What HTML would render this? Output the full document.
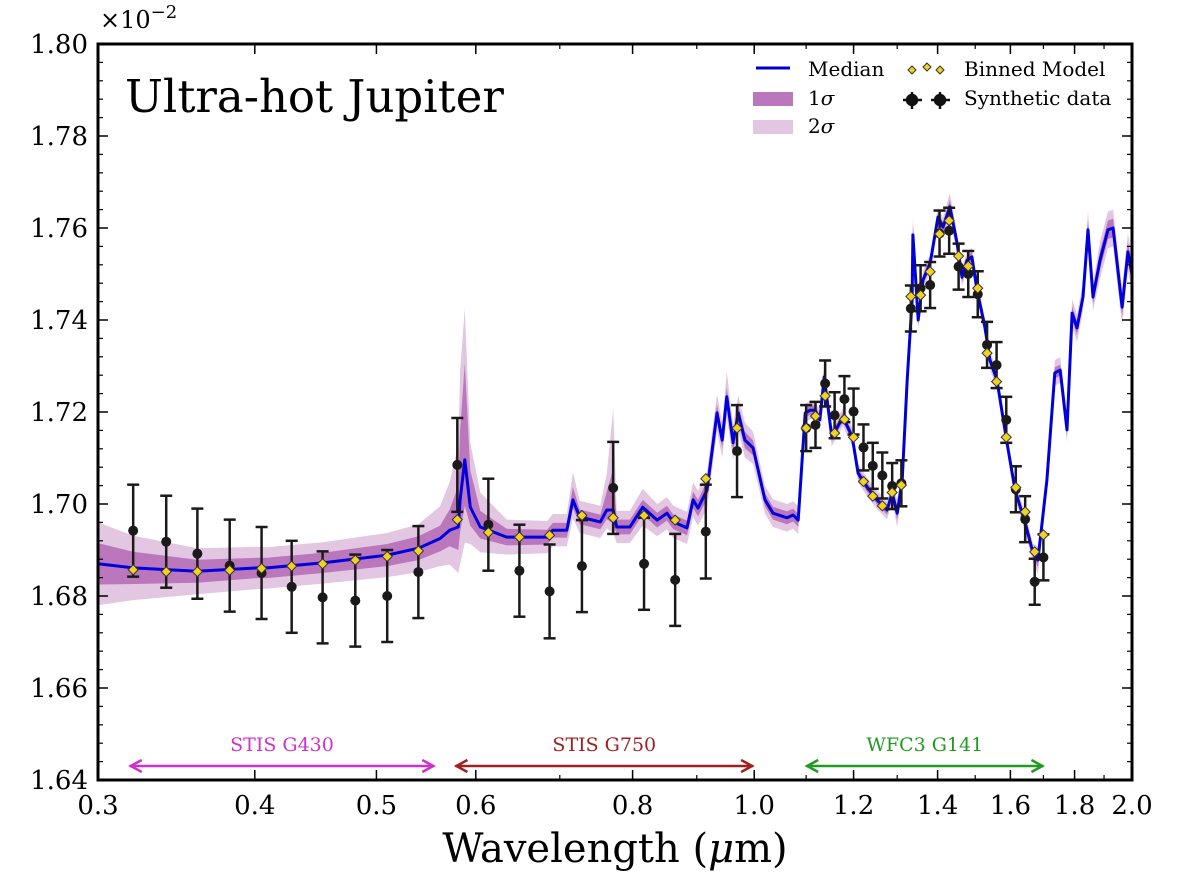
<!DOCTYPE html>
<html><head><meta charset="utf-8"><style>
html,body{margin:0;padding:0;background:#fff;}
svg{display:block;}
text{font-family:"DejaVu Serif","Liberation Serif",serif;}
</style></head><body>
<svg id="chart" width="1200" height="892" xmlns="http://www.w3.org/2000/svg">
<g id="bands"></g>
<g id="median"></g>
<g id="data"></g>
<g id="binned"></g>
<g id="axes"></g>
<text x="125" y="112" font-size="45">Ultra-hot Jupiter</text>
<text x="100" y="28" font-size="24">×10<tspan dy="-10" font-size="18">−2</tspan></text>
<text x="615" y="862" font-size="40" text-anchor="middle">Wavelength (<tspan font-style="italic">μ</tspan>m)</text>
<g>
 <line x1="756" y1="68" x2="790" y2="68" stroke="#0000cc" stroke-width="3"/>
 <text x="808" y="76" font-size="20">Median</text>
 <rect x="753" y="92" width="40" height="14" fill="#bb77bb"/>
 <text x="808" y="105" font-size="20">1<tspan font-style="italic">σ</tspan></text>
 <rect x="753" y="120" width="40" height="14" fill="#e2c6e2"/>
 <text x="808" y="133" font-size="20">2<tspan font-style="italic">σ</tspan></text>
 <g>
  <path d="M912 66l4 4-4 4-4-4z M927 63l4 4-4 4-4-4z M940 66l4 4-4 4-4-4z" fill="#f2d21e" stroke="#333" stroke-width="1"/>
 </g>
 <text x="964" y="76" font-size="20">Binned Model</text>
 <g stroke="#111" stroke-width="2.5">
  <line x1="903" y1="100" x2="922" y2="100"/><line x1="912" y1="92" x2="912" y2="109"/>
  <line x1="931" y1="100" x2="950" y2="100"/><line x1="940" y1="92" x2="940" y2="109"/>
  <circle cx="912" cy="100" r="5" fill="#111"/><circle cx="940" cy="100" r="5" fill="#111"/>
 </g>
 <text x="964" y="105" font-size="20">Synthetic data</text>
</g>
<g id="instr"></g>
</svg>
<script>
const NS="http://www.w3.org/2000/svg";
// ---- data ----
const modelWl=[0.300,0.320,0.360,0.402,0.409,0.453,0.510,0.540,0.562,0.572,0.581,0.583,0.588,0.594,0.605,0.635,0.684,0.691,0.709,0.717,0.726,0.754,0.763,0.772,0.777,0.796,0.815,0.837,0.852,0.862,0.884,0.894,0.902,0.917,0.934,0.943,0.951,0.962,0.971,0.983,0.998,1.020,1.035,1.062,1.074,1.084,1.098,1.108,1.118,1.128,1.137,1.153,1.177,1.197,1.210,1.230,1.253,1.276,1.288,1.300,1.312,1.324,1.336,1.338,1.351,1.363,1.381,1.401,1.414,1.432,1.451,1.464,1.478,1.491,1.505,1.527,1.541,1.561,1.590,1.614,1.644,1.668,1.683,1.711,1.736,1.753,1.775,1.792,1.808,1.828,1.845,1.862,1.886,1.914,1.932,1.964,1.985,2.000];
const modelMed=[1.6870,1.6861,1.6854,1.6861,1.6861,1.6872,1.6889,1.6904,1.6925,1.6943,1.6950,1.7009,1.7096,1.6993,1.6950,1.6928,1.6928,1.6943,1.6943,1.7009,1.6972,1.6961,1.6987,1.6987,1.6950,1.6950,1.6993,1.6965,1.6980,1.6961,1.6948,1.7009,1.6991,1.7030,1.7198,1.7139,1.7233,1.7133,1.7198,1.7139,1.7122,1.7009,1.6980,1.6970,1.6976,1.6965,1.7198,1.7204,1.7204,1.7183,1.7276,1.7146,1.7189,1.7146,1.7067,1.7037,1.7009,1.6987,1.7024,1.6980,1.7052,1.7270,1.7443,1.7585,1.7400,1.7487,1.7524,1.7624,1.7602,1.7646,1.7567,1.7493,1.7530,1.7537,1.7465,1.7385,1.7313,1.7270,1.7133,1.7030,1.6959,1.6893,1.6878,1.7052,1.7285,1.7291,1.7161,1.7415,1.7383,1.7450,1.7596,1.7450,1.7530,1.7596,1.7600,1.7428,1.7548,1.7500];
// half-widths in units of 1e-4
const sig1=[45,35,25,22,22,22,24,26,28,35,50,70,100,40,25,18,16,16,16,18,16,16,20,30,16,16,16,16,16,16,16,18,18,20,18,18,20,18,18,18,16,14,14,14,14,14,10,10,10,10,15,10,10,10,10,10,10,10,10,15,10,10,15,20,10,10,10,10,10,15,10,10,10,10,10,10,10,10,10,10,10,10,15,10,12,12,12,15,15,15,20,15,20,20,20,20,20,20];
const sig2=[90,70,50,46,45,45,48,52,60,75,100,140,180,80,55,38,35,35,35,40,35,35,40,50,35,35,40,35,35,35,35,38,38,40,40,38,45,38,38,38,35,30,30,30,30,30,20,20,20,20,30,20,20,20,20,20,20,20,20,30,20,20,30,40,20,20,20,20,20,30,20,20,20,20,20,20,20,20,20,20,20,20,30,20,28,28,28,30,30,30,40,30,40,40,40,40,40,40];
// extra upward extent of bands (1e-4)
const up1=[0,0,0,0,0,0,0,0,0,10,40,80,110,40,10,0,0,0,0,10,0,0,20,60,0,0,0,0,0,0,0,0,0,0,0,0,0,0,0,0,0,0,0,0,0,0,0,0,0,0,0,0,0,0,0,0,0,0,0,0,0,0,0,0,0,0,0,0,0,0,0,0,0,0,0,0,0,0,0,0,0,0,0,0,0,0,0,0,0,0,0,0,0,0,0,0,0,0];
const up2=[0,0,0,0,0,0,0,0,10,30,80,140,150,60,20,0,0,0,0,20,0,0,40,170,0,0,0,0,0,0,0,0,0,0,0,0,10,0,0,0,0,0,0,0,0,0,0,0,0,0,0,0,0,0,0,0,0,0,0,0,0,0,0,0,0,0,0,0,0,0,0,0,0,0,0,0,0,0,0,0,0,0,0,0,0,0,0,0,0,0,0,0,0,0,0,0,0,0];
const dataWl=[0.320,0.340,0.360,0.382,0.405,0.428,0.453,0.481,0.510,0.540,0.580,0.614,0.650,0.687,0.729,0.772,0.817,0.865,0.915,0.969,1.100,1.119,1.139,1.159,1.180,1.200,1.222,1.243,1.265,1.288,1.310,1.333,1.357,1.381,1.405,1.430,1.455,1.481,1.507,1.533,1.560,1.588,1.616,1.644,1.673,1.700];
const dataVal=[1.6942,1.6918,1.6892,1.6866,1.6850,1.6820,1.6797,1.6790,1.6800,1.6852,1.7085,1.6955,1.6855,1.6810,1.6865,1.7035,1.6870,1.6835,1.6940,1.7115,1.7165,1.7172,1.7262,1.7193,1.7228,1.7201,1.7123,1.7083,1.7062,1.7039,1.7045,1.7425,1.7469,1.7476,1.7588,1.7594,1.7516,1.7500,1.7456,1.7346,1.7302,1.7183,1.7032,1.6967,1.6831,1.6884];
const dataErr=[0.0100,0.0100,0.0098,0.0100,0.0100,0.0100,0.0100,0.0100,0.0100,0.0100,0.0102,0.0100,0.0100,0.0102,0.0100,0.0100,0.0100,0.0100,0.0102,0.0100,0.0050,0.0050,0.0050,0.0050,0.0050,0.0050,0.0050,0.0050,0.0050,0.0050,0.0050,0.0050,0.0050,0.0050,0.0050,0.0050,0.0050,0.0050,0.0050,0.0050,0.0050,0.0050,0.0050,0.0050,0.0050,0.0050];
const binnedVal=[1.6857,1.6853,1.6853,1.6856,1.6860,1.6865,1.6870,1.6878,1.6886,1.6898,1.6966,1.6938,1.6928,1.6932,1.6975,1.6970,1.6975,1.6965,1.7055,1.7165,1.7165,1.7191,1.7235,1.7154,1.7184,1.7145,1.7049,1.7017,1.6996,1.7025,1.7041,1.7451,1.7454,1.7505,1.7587,1.7616,1.7539,1.7517,1.7469,1.7328,1.7266,1.7145,1.7036,1.6983,1.6896,1.6933];
const xTicks=[0.3,0.4,0.5,0.6,0.8,1.0,1.2,1.4,1.6,1.8,2.0];
const xTickLabels=["0.3","0.4","0.5","0.6","0.8","1.0","1.2","1.4","1.6","1.8","2.0"];
const xMinor=[0.7,0.9,1.1,1.3,1.5,1.7,1.9];
const yTicks=[1.64,1.66,1.68,1.70,1.72,1.74,1.76,1.78,1.80];
const yTickLabels=["1.64","1.66","1.68","1.70","1.72","1.74","1.76","1.78","1.80"];
const instNames=["STIS G430","STIS G750","WFC3 G141"];
const instStart=[0.318,0.578,1.10];
const instEnd=[0.556,0.998,1.70];
const instColors=["#cc33cc","#a02020","#229922"];
// ---- axes ----
const L=98,R=1132,T=44,B=780,X0=0.3,X1=2.0,Y0=1.64,Y1=1.80;
const sx=v=>L+(Math.log10(v)-Math.log10(X0))/(Math.log10(X1)-Math.log10(X0))*(R-L);
const sy=v=>B-(v-Y0)/(Y1-Y0)*(B-T);
function mk(tag,attrs,parent){const e=document.createElementNS(NS,tag);for(const k in attrs)e.setAttribute(k,attrs[k]);parent.appendChild(e);return e;}
const gB=document.getElementById('bands');
function band(lo,hi,fill,name){
  let d="M"+modelWl.map((w,i)=>sx(w).toFixed(1)+","+sy(hi(i)).toFixed(1)).join("L");
  for(let i=modelWl.length-1;i>=0;i--)d+="L"+sx(modelWl[i]).toFixed(1)+","+sy(lo(i)).toFixed(1);
  const p=mk('path',{d:d+"Z",fill:fill},gB);
  
  
}
band(i=>modelMed[i]-sig2[i]*1e-4,i=>modelMed[i]+(sig2[i]+up2[i])*1e-4,"#e2c6e2","band-2sigma");
band(i=>modelMed[i]-sig1[i]*1e-4,i=>modelMed[i]+(sig1[i]+up1[i])*1e-4,"#bb77bb","band-1sigma");
const ml=mk('polyline',{points:modelWl.map((w,i)=>sx(w).toFixed(1)+","+sy(modelMed[i]).toFixed(1)).join(" "),fill:"none",stroke:"#0000dd","stroke-width":3,"stroke-linejoin":"round"},document.getElementById('median'));


const gD=document.getElementById('data');
dataWl.forEach((w,i)=>{
  const g=mk('g',{stroke:"#1a1a1a","stroke-width":2.5},gD);
  
  
  const x=sx(w),y1=sy(dataVal[i]+dataErr[i]),y2=sy(dataVal[i]-dataErr[i]);
  mk('line',{x1:x,y1:y1,x2:x,y2:y2},g);
  mk('line',{x1:x-6,y1:y1,x2:x+6,y2:y1},g);
  mk('line',{x1:x-6,y1:y2,x2:x+6,y2:y2},g);
  mk('circle',{cx:x,cy:sy(dataVal[i]),r:5,fill:"#1a1a1a",stroke:"none"},g);
});
const gN=document.getElementById('binned');
dataWl.forEach((w,i)=>{
  const x=sx(w),y=sy(binnedVal[i]);
  const p=mk('path',{d:`M${x} ${y-5}L${x+5} ${y}L${x} ${y+5}L${x-5} ${y}Z`,fill:"#f2d21e",stroke:"#333","stroke-width":1},gN);
  
  
});
const gA=document.getElementById('axes');
xTicks.forEach((t,i)=>{
  const x=sx(t);
  mk('line',{x1:x,y1:B,x2:x,y2:B-10,stroke:"#000","stroke-width":1.5},gA);
  mk('line',{x1:x,y1:T,x2:x,y2:T+10,stroke:"#000","stroke-width":1.5},gA);
  const tx=mk('text',{x:x,y:B+34,"font-size":26,"text-anchor":"middle"},gA);
  tx.textContent=xTickLabels[i];
  
  
});
xMinor.forEach(t=>{const x=sx(t);
  mk('line',{x1:x,y1:B,x2:x,y2:B-5,stroke:"#000","stroke-width":1.2},gA);
  mk('line',{x1:x,y1:T,x2:x,y2:T+5,stroke:"#000","stroke-width":1.2},gA);});
yTicks.forEach((t,i)=>{
  const y=sy(t);
  mk('line',{x1:L,y1:y,x2:L+10,y2:y,stroke:"#000","stroke-width":1.5},gA);
  mk('line',{x1:R,y1:y,x2:R-10,y2:y,stroke:"#000","stroke-width":1.5},gA);
  const tx=mk('text',{x:L-10,y:y+9,"font-size":26,"text-anchor":"end"},gA);
  tx.textContent=yTickLabels[i];
  
  
  if(i<yTicks.length-1)for(let k=1;k<5;k++){const ym=sy(t+k*0.004);
    mk('line',{x1:L,y1:ym,x2:L+5,y2:ym,stroke:"#000","stroke-width":1.2},gA);
    mk('line',{x1:R,y1:ym,x2:R-5,y2:ym,stroke:"#000","stroke-width":1.2},gA);}
});
const fr=mk('rect',{x:L,y:T,width:R-L,height:B-T,fill:"none",stroke:"#000","stroke-width":3},gA);


const gI=document.getElementById('instr');
instNames.forEach((n,i)=>{
  const x1=sx(instStart[i]),x2=sx(instEnd[i]),y=766,c=instColors[i];
  const g=mk('g',{stroke:c,"stroke-width":2.5,fill:"none"},gI);
  
  
  mk('line',{x1:x1,y1:y,x2:x2,y2:y},g);
  mk('polyline',{points:`${x1+12},${y-6} ${x1+1},${y} ${x1+12},${y+6}`},g);
  mk('polyline',{points:`${x2-12},${y-6} ${x2-1},${y} ${x2-12},${y+6}`},g);
  const t=mk('text',{x:(x1+x2)/2,y:751,"font-size":19,"text-anchor":"middle",fill:c},gI);
  t.textContent=n;
  
  
});
</script>
</body></html>
